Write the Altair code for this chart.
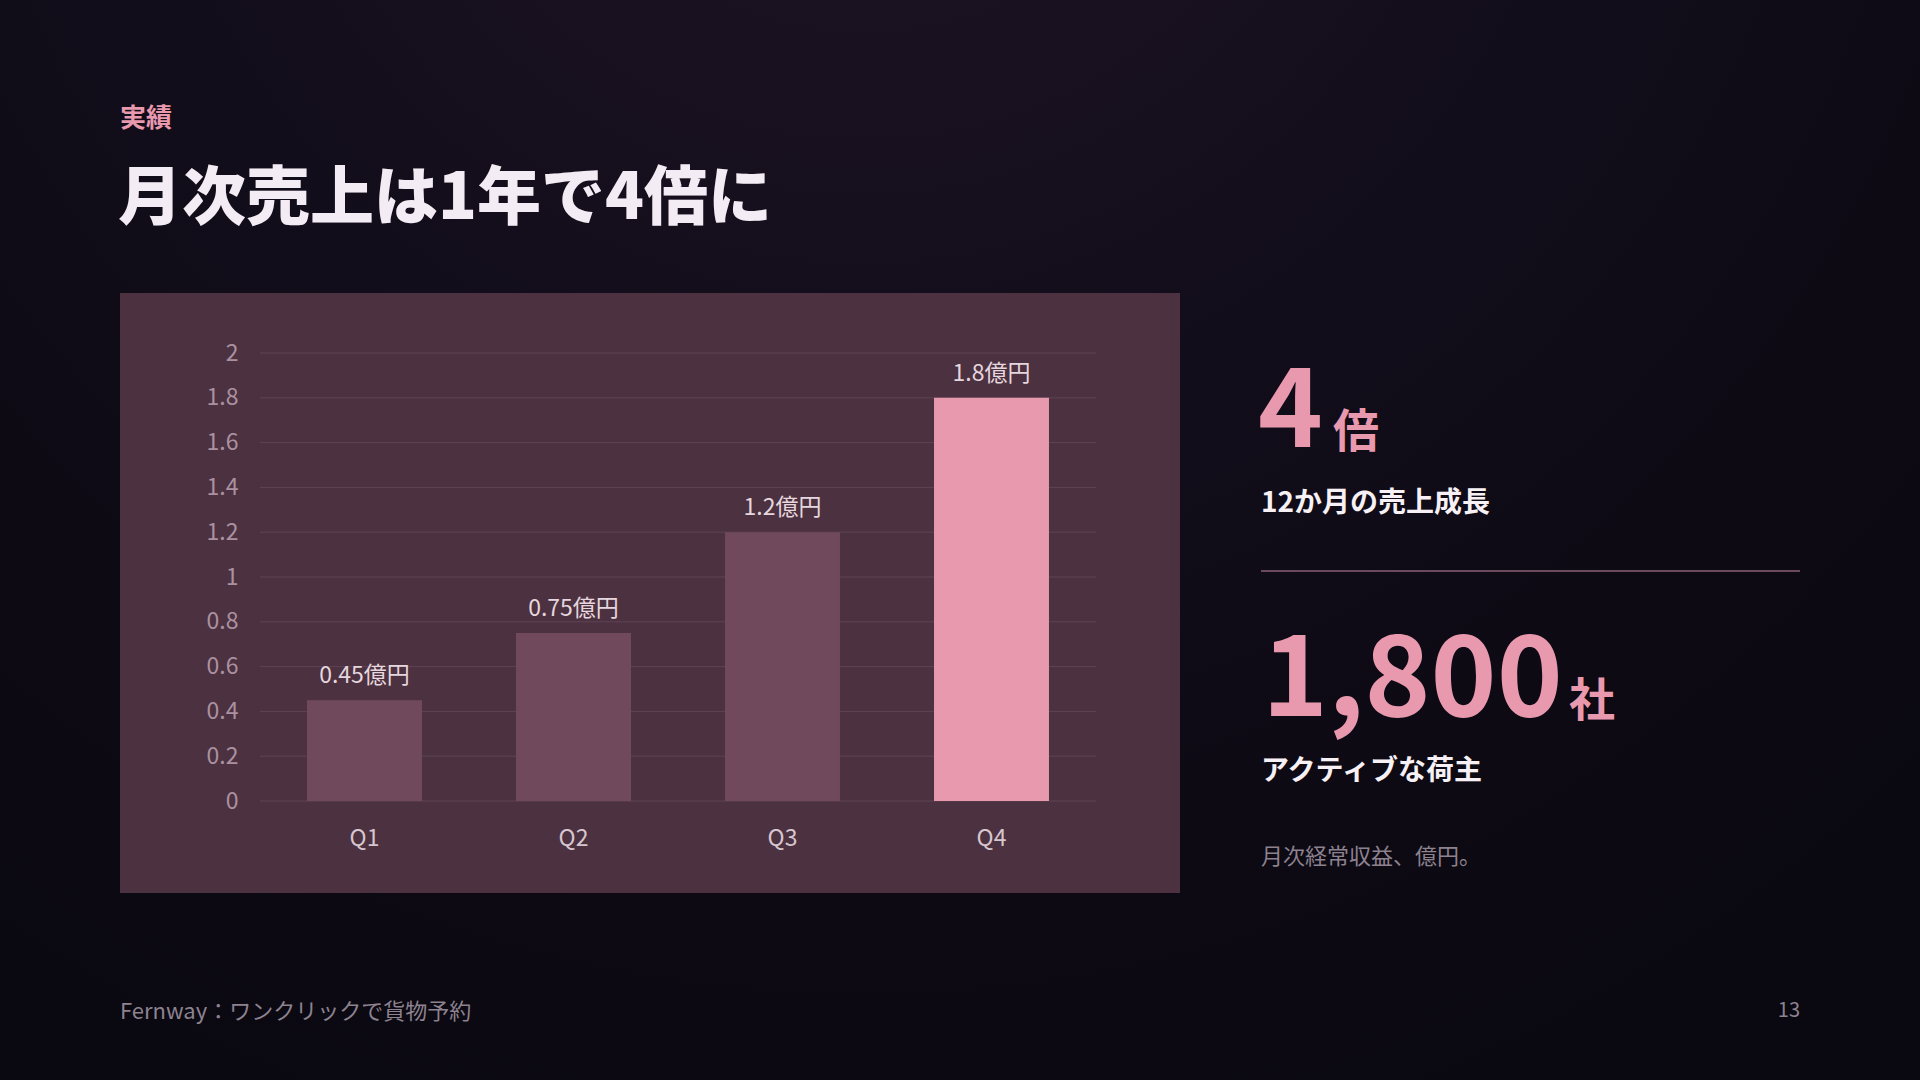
import altair as alt
import pandas as pd

# ---- data ----
quarters = ["Q1", "Q2", "Q3", "Q4"]
revenue = [0.45, 0.75, 1.2, 1.8]
value_labels = ["0.45億円", "0.75億円", "1.2億円", "1.8億円"]
highlight = ["n", "n", "n", "y"]
y_ticks = [0, 0.2, 0.4, 0.6, 0.8, 1.0, 1.2, 1.4, 1.6, 1.8, 2.0]

FONT = "Noto Sans CJK JP"
PINK = "#e899ae"
DIM = "#704a5c"
PANEL = "#4c3140"
GRID = "#5e4455"

W, H = 836, 448
OX, OY = 260, 353  # plot origin in page pixels

df = pd.DataFrame({"q": quarters, "rev": revenue, "lab": value_labels, "hl": highlight})
grid_df = pd.DataFrame({"v": y_ticks})

yscale = alt.Scale(domain=[0, 2], nice=False)
xscale = alt.Scale(paddingInner=0.45, paddingOuter=0.225)
yaxis = alt.Axis(title=None, values=y_ticks, format="~g", domain=False, ticks=False,
                 grid=False, zindex=2, labelFont=FONT, labelFontSize=23,
                 labelColor="#ab91a0", labelPadding=22)

one = alt.Data(values=[{}])


def px(x):
    return x - OX


def py(y):
    return y - OY


# page background with glow
bg = alt.Chart(one).mark_rect(
    fill={
        "gradient": "radial",
        "x1": 0.45, "y1": 0.05, "x2": 0.45, "y2": 0.05, "r1": 0, "r2": 0.8,
        "stops": [
            {"offset": 0, "color": "#201526"},
            {"offset": 0.5, "color": "#120d1a"},
            {"offset": 1, "color": "#0a0810"},
        ],
    }
).encode(x=alt.value(px(0)), x2=alt.value(px(1920)), y=alt.value(py(0)), y2=alt.value(py(1080)))

panel = alt.Chart(one).mark_rect(fill=PANEL).encode(
    x=alt.value(px(120)), x2=alt.value(px(1180)), y=alt.value(py(293)), y2=alt.value(py(893))
)

grid = alt.Chart(grid_df).mark_rule(color=GRID, strokeWidth=1).encode(
    y=alt.Y("v:Q", scale=yscale, axis=yaxis),
    x=alt.value(0), x2=alt.value(W),
)

bars = alt.Chart(df).mark_bar().encode(
    x=alt.X("q:N", scale=xscale, sort=quarters,
            axis=alt.Axis(title=None, labelAngle=0, domain=False, ticks=False, zindex=2,
                          labelFont=FONT, labelFontSize=23, labelColor="#d6c6cf",
                          labelPadding=26)),
    y=alt.Y("rev:Q", scale=yscale, axis=yaxis),
    color=alt.Color("hl:N", scale=alt.Scale(domain=["n", "y"], range=[DIM, PINK]), legend=None),
)

vals = alt.Chart(df).mark_text(font=FONT, fontSize=23, color="#e6d6de", baseline="middle", dy=-24).encode(
    x=alt.X("q:N", scale=xscale, sort=quarters),
    y=alt.Y("rev:Q", scale=yscale),
    text="lab:N",
)


def txt(s, x, y, size, color, weight="normal", align="left", baseline="middle"):
    return alt.Chart(one).mark_text(
        font=FONT, fontSize=size, color=color, fontWeight=weight, align=align, baseline=baseline
    ).encode(x=alt.value(px(x)), y=alt.value(py(y)), text=alt.value(s))


texts = [
    txt("実績", 120, 119, 26, PINK, "bold"),
    txt("月次売上は1年で4倍に", 118, 200, 64, "#f4ecf4", 900),
    txt("4", 1258, 447, 110, PINK, "bold", baseline="alphabetic"),
    txt("倍", 1333, 447, 46, PINK, "bold", baseline="alphabetic"),
    txt("12か月の売上成長", 1261, 504, 28, "#f7f1f6", "bold"),
    txt("1,800", 1262, 716, 112, PINK, "bold", baseline="alphabetic"),
    txt("社", 1569, 716, 46, PINK, "bold", baseline="alphabetic"),
    txt("アクティブな荷主", 1261, 772, 28, "#f7f1f6", "bold"),
    txt("月次経常収益、億円。", 1261, 857, 22, "#8d8290"),
    txt("Fernway：ワンクリックで貨物予約", 120, 1012, 22, "#8d8290"),
    txt("13", 1800, 1011, 20, "#8d8290", align="right"),
]

sep = alt.Chart(one).mark_rule(color="#6a4a5c", strokeWidth=2).encode(
    x=alt.value(px(1261)), x2=alt.value(px(1800)), y=alt.value(py(571))
)

chart = alt.layer(bg, panel, grid, bars, vals, sep, *texts).properties(
    width=W, height=H,
    autosize=alt.AutoSizeParams(type="none"),
    padding={"left": OX, "top": OY, "right": 1920 - OX - W, "bottom": 1080 - OY - H},
    background="#0a0810",
).configure_view(stroke=None)

chart.save("out.html", embed_options={"renderer": "svg", "actions": False})
